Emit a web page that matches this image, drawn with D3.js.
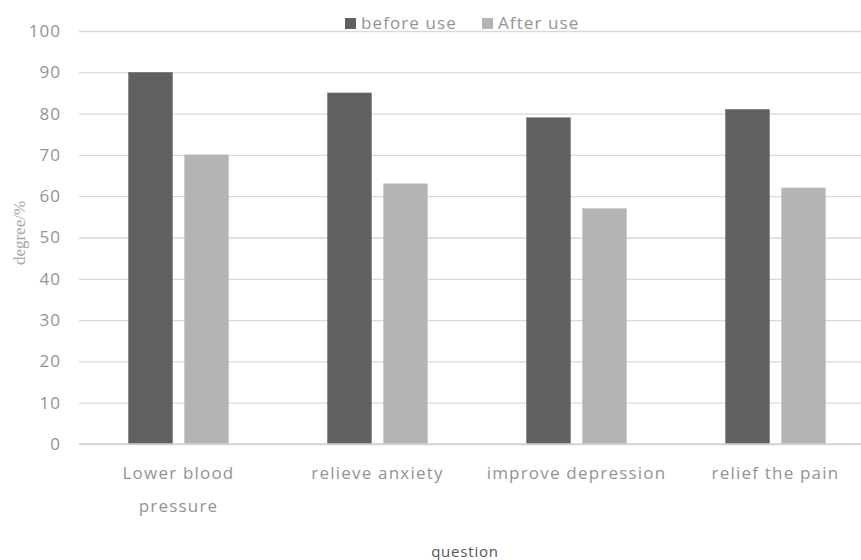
<!DOCTYPE html>
<html>
<head>
<meta charset="utf-8">
<script src="https://cdn.jsdelivr.net/npm/d3@7/dist/d3.min.js"></script>
<style>
  html, body { margin: 0; padding: 0; background: #fff; }
  svg { display: block; }
</style>
</head>
<body>
<svg id="chart" width="861" height="560"></svg>
<script>
// Survey results: share of respondents per question, before and after use
const categories = [["Lower blood", "pressure"], ["relieve anxiety"], ["improve depression"], ["relief the pain"]];
const seriesNames = ["before use", "After use"];
const beforeUse = [90, 85, 79, 81];
const afterUse = [70, 63, 57, 62];
const yTicks = [0, 10, 20, 30, 40, 50, 60, 70, 80, 90, 100];
const colors = ["#606060", "#b4b4b4"];

const svg = d3.select("#chart");
const W = 861, H = 560;
const margin = { left: 79, right: -14, top: 31, bottom: 116 };
const font = "'Open Sans', 'Noto Sans', sans-serif";
const textGray = "#939393";

const x = d3.scaleBand()
  .domain(d3.range(categories.length))
  .range([margin.left, W - margin.right])
  .paddingInner(0)
  .paddingOuter(0);

const y = d3.scaleLinear().domain([0, 100]).range([H - margin.bottom, margin.top]);

const inner = d3.scaleBand()
  .domain(d3.range(seriesNames.length))
  .range([0, x.bandwidth()])
  .paddingInner(0.214)
  .paddingOuter(0.884);

// gridlines + y tick labels
const yAxis = d3.axisLeft(y).tickValues(yTicks).tickSize(-(W - margin.left)).tickPadding(0);
const gy = svg.append("g").attr("transform", `translate(${margin.left},0)`).call(yAxis);
gy.select(".domain").remove();
gy.selectAll(".tick line").attr("stroke", "#d9d9d9").attr("stroke-width", 1.3);
gy.selectAll(".tick text")
  .attr("fill", textGray).attr("font-family", font).attr("font-size", 17)
  .attr("letter-spacing", 1)
  .attr("x", -18);

// bars
const data = [beforeUse, afterUse];
data.forEach((vals, s) => {
  svg.append("g").selectAll("rect")
    .data(vals)
    .join("rect")
    .attr("x", (d, i) => x(i) + inner(s))
    .attr("width", inner.bandwidth())
    .attr("y", d => y(d))
    .attr("height", d => y(0) - y(d))
    .attr("fill", colors[s])
    .attr("stroke", s === 0 ? "#7a7a7a" : "#c4c4c4")
    .attr("stroke-width", 0.6);
});

// category axis baseline
svg.append("line")
  .attr("x1", margin.left).attr("x2", W)
  .attr("y1", y(0)).attr("y2", y(0))
  .attr("stroke", "#d0d0d0").attr("stroke-width", 1.3);

// category labels
const cat = svg.append("g");
categories.forEach((lines, i) => {
  const cx = x(i) + x.bandwidth() / 2;
  const t = cat.append("text")
    .attr("x", cx)
    .attr("y", 479)
    .attr("text-anchor", "middle")
    .attr("letter-spacing", 1.2)
    .attr("fill", textGray).attr("font-family", font).attr("font-size", 17);
  lines.forEach((l, j) => {
    t.append("tspan").attr("x", cx).attr("dy", j === 0 ? 0 : 33).text(l);
  });
});

// axis titles
svg.append("text")
  .attr("x", 465).attr("y", 557)
  .attr("text-anchor", "middle")
  .attr("letter-spacing", 0.8)
  .attr("fill", "#555").attr("font-family", font).attr("font-size", 15)
  .text("question");

svg.append("text")
  .attr("transform", `translate(25,233) rotate(-90)`)
  .attr("text-anchor", "middle")
  .attr("fill", "#a6a6a6").attr("font-family", "'Liberation Serif', 'DejaVu Serif', serif").attr("font-size", 17)
  .text("degree/%");

// legend
const legendItems = [{ x: 345, tx: 361 }, { x: 482, tx: 498 }];
seriesNames.forEach((name, s) => {
  svg.append("rect")
    .attr("x", legendItems[s].x).attr("y", 18)
    .attr("width", 11).attr("height", 11)
    .attr("fill", colors[s]);
  svg.append("text")
    .attr("x", legendItems[s].tx).attr("y", 29)
    .attr("letter-spacing", 1.1)
    .attr("fill", textGray).attr("font-family", font).attr("font-size", 17)
    .text(name);
});
</script>
</body>
</html>
